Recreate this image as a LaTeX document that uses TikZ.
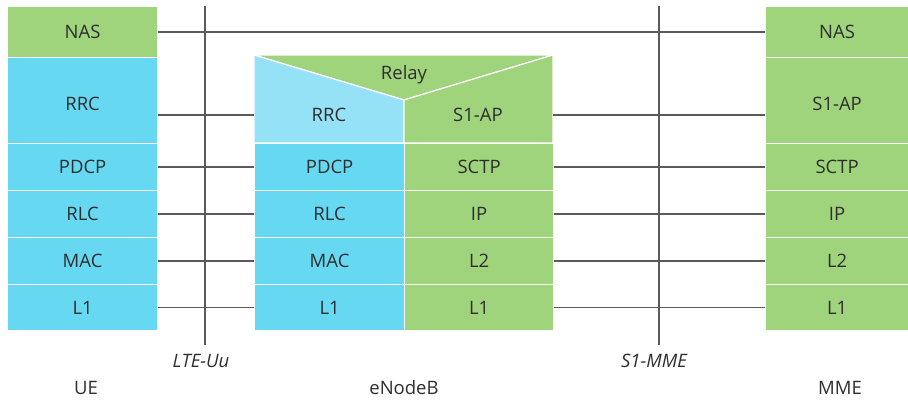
\documentclass[tikz,border=0pt]{standalone}
\usepackage{fontspec}
\setmainfont{Open Sans}
\definecolor{lgreen}{HTML}{A0D47C}
\definecolor{cblue}{HTML}{66D8F2}
\definecolor{lblue}{HTML}{95E1F6}
\definecolor{txt}{HTML}{2E2E2E}
\definecolor{wirec}{HTML}{5A5A5C}
\begin{document}
\begin{tikzpicture}[x=1pt,y=-1pt,
  font=\fontsize{18.5}{22}\selectfont, text=txt,
  layer/.style={draw=white, line width=1.2pt, inner sep=0pt, anchor=north west},
  tall/.style={text height=19pt},
  wire/.style={draw=wirec, line width=1.3pt},
  lbl/.style={inner sep=0pt}]
\useasboundingbox (0,0) rectangle (908,400);
% UE
\node[layer, fill=lgreen, minimum width=150pt, minimum height=51pt] (uenas) at (7,6) {NAS};
\node[layer, tall, fill=cblue, minimum width=150pt, minimum height=86pt] (uerrc) at (7,57) {RRC};
\node[layer, fill=cblue, minimum width=150pt, minimum height=47pt] (uepdcp) at (7,143) {PDCP};
\node[layer, fill=cblue, minimum width=150pt, minimum height=47pt] (uerlc) at (7,190) {RLC};
\node[layer, fill=cblue, minimum width=150pt, minimum height=47pt] (uemac) at (7,237) {MAC};
\node[layer, fill=cblue, minimum width=150pt, minimum height=46pt] (uel1) at (7,284) {L1};
% eNodeB
\path[fill=lgreen, draw=white, line width=1.2pt] (254,55) -- (553,55) -- (404,100) -- cycle;
\path[fill=lblue, draw=white, line width=1.2pt] (254,55) -- (404,100) -- (404,143) -- (254,143) -- cycle;
\path[fill=lgreen, draw=white, line width=1.2pt] (404,100) -- (553,55) -- (553,143) -- (404,143) -- cycle;
\node[lbl] (relay) at (404,75) {Relay};
\node[lbl] (enbrrc) at (329,115) {RRC};
\node[lbl] (enbs1ap) at (478,115) {S1-AP};
\coordinate (enbw) at (254,115);
\coordinate (enbe) at (553,115);
\node[layer, fill=cblue, minimum width=150pt, minimum height=47pt] (enbpdcp) at (254,143) {PDCP};
\node[layer, fill=cblue, minimum width=150pt, minimum height=47pt] (enbrlc) at (254,190) {RLC};
\node[layer, fill=cblue, minimum width=150pt, minimum height=47pt] (enbmac) at (254,237) {MAC};
\node[layer, fill=cblue, minimum width=150pt, minimum height=46pt] (enbl1a) at (254,284) {L1};
\node[layer, fill=lgreen, minimum width=149pt, minimum height=47pt] (enbsctp) at (404,143) {SCTP};
\node[layer, fill=lgreen, minimum width=149pt, minimum height=47pt] (enbip) at (404,190) {IP};
\node[layer, fill=lgreen, minimum width=149pt, minimum height=47pt] (enbl2) at (404,237) {L2};
\node[layer, fill=lgreen, minimum width=149pt, minimum height=46pt] (enbl1b) at (404,284) {L1};
% MME
\node[layer, fill=lgreen, minimum width=143pt, minimum height=51pt] (mmenas) at (765,6) {NAS};
\node[layer, tall, fill=lgreen, minimum width=143pt, minimum height=86pt] (mmes1ap) at (765,57) {S1-AP};
\node[layer, fill=lgreen, minimum width=143pt, minimum height=47pt] (mmesctp) at (765,143) {SCTP};
\node[layer, fill=lgreen, minimum width=143pt, minimum height=47pt] (mmeip) at (765,190) {IP};
\node[layer, fill=lgreen, minimum width=143pt, minimum height=47pt] (mmel2) at (765,237) {L2};
\node[layer, fill=lgreen, minimum width=143pt, minimum height=46pt] (mmel1) at (765,284) {L1};
% peer wires
\draw[wire] (uenas.east) -- (mmenas.west);
\draw[wire] (uerrc.east |- enbw) -- (enbw);
\draw[wire] (enbe) -- (mmes1ap.west |- enbe);
\draw[wire] (uepdcp.east) -- (enbpdcp.west);
\draw[wire] (uerlc.east) -- (enbrlc.west);
\draw[wire] (uemac.east) -- (enbmac.west);
\draw[wire] (uel1.east) -- (enbl1a.west);
\draw[wire] (enbsctp.east) -- (mmesctp.west);
\draw[wire] (enbip.east) -- (mmeip.west);
\draw[wire] (enbl2.east) -- (mmel2.west);
\draw[wire] (enbl1b.east) -- (mmel1.west);
% interfaces
\coordinate (uutop) at (205,6);
\coordinate (uubot) at (205,345);
\coordinate (s1top) at (659,6);
\coordinate (s1bot) at (659,345);
\draw[wire] (uutop) -- (uubot);
\draw[wire] (s1top) -- (s1bot);
\node[lbl, font=\fontsize{18.5}{22}\selectfont\itshape] (uulab) at (201,361) {LTE-Uu};
\node[lbl, font=\fontsize{18.5}{22}\selectfont\itshape] (s1lab) at (654,361) {S1-MME};
\node[lbl] (uelab) at (86,388) {UE};
\node[lbl] (enblab) at (404,388) {eNodeB};
\node[lbl] (mmelab) at (840,388) {MME};
\end{tikzpicture}
\end{document}
